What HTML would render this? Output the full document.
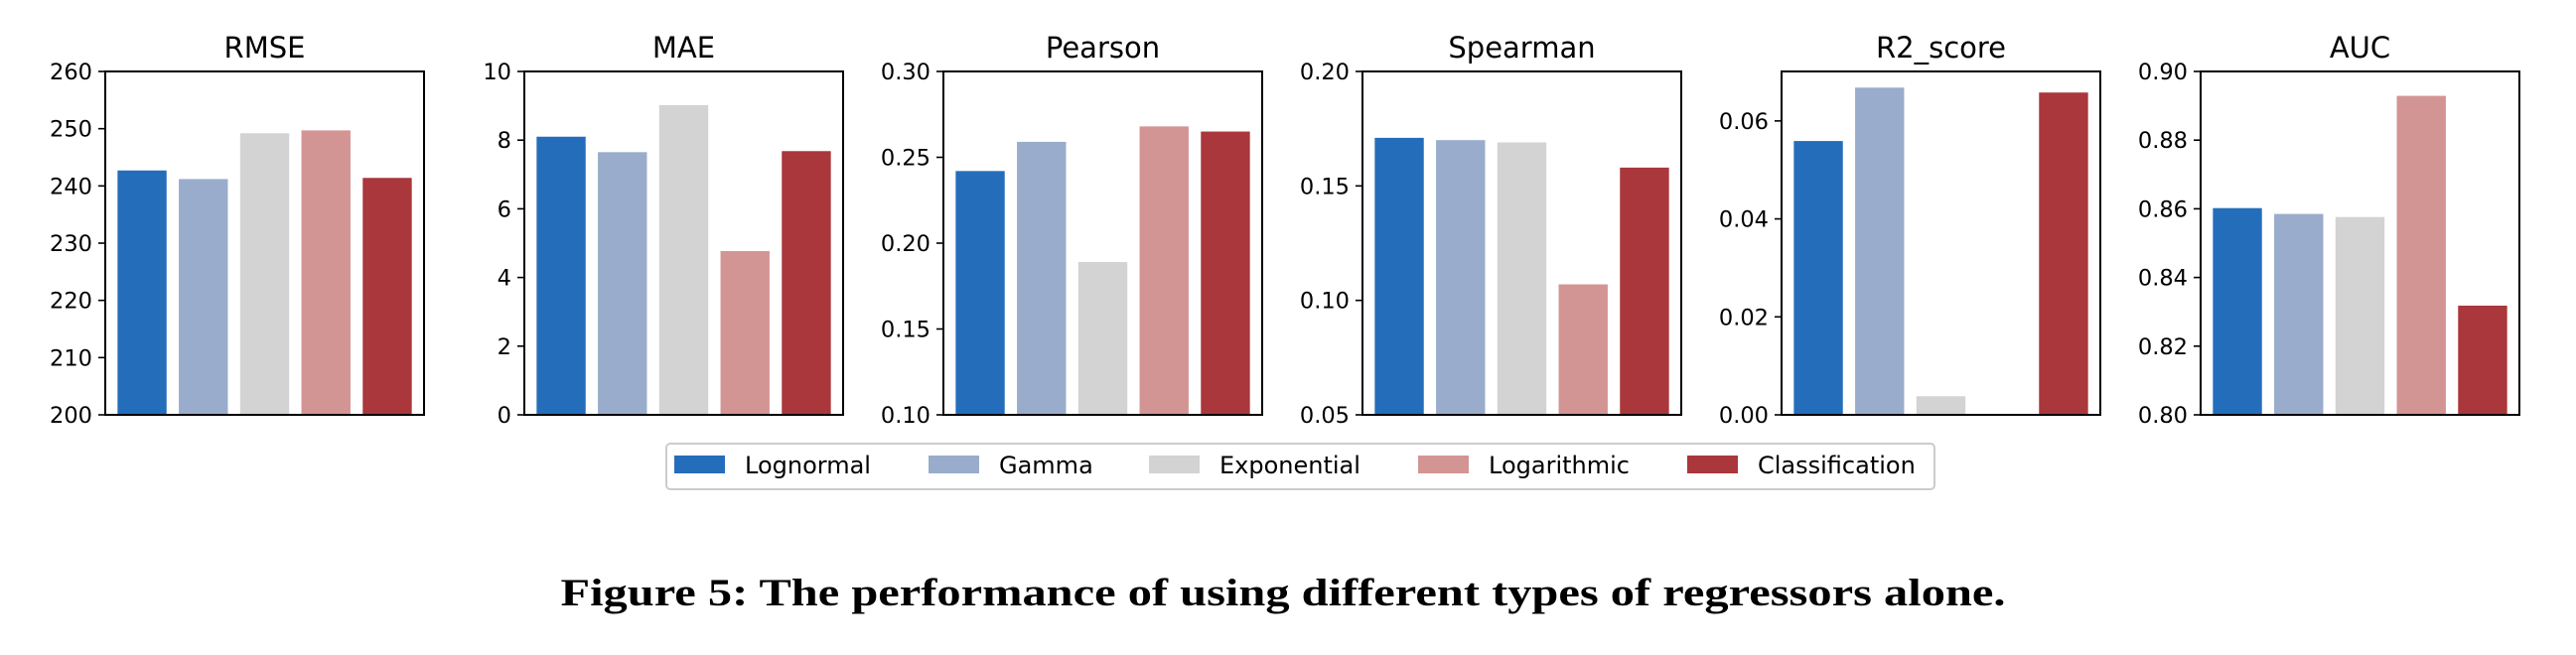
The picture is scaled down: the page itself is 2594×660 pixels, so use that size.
<!DOCTYPE html>
<html><head><meta charset="utf-8"><style>
html,body{margin:0;padding:0;background:#fff;width:2594px;height:660px;overflow:hidden}
svg text{font-family:"DejaVu Sans","Liberation Sans",sans-serif}
</style></head><body>
<svg id="fig" width="2594" height="660" viewBox="0 0 2594 660" xmlns="http://www.w3.org/2000/svg">
<g id="panels"></g>
<g id="legend"></g>
<text x="1292" y="610" text-anchor="middle" font-size="39" font-weight="bold" style="font-family:'Liberation Serif',serif" textLength="1455" lengthAdjust="spacingAndGlyphs">Figure 5: The performance of using different types of regressors alone.</text>
</svg>
<script>
const series = ["Lognormal","Gamma","Exponential","Logarithmic","Classification"];
const colors = ["#246dbb","#99accb","#d3d3d3","#d39594","#a9373b"];
const metrics = ["RMSE","MAE","Pearson","Spearman","R2_score","AUC"];
const rmseValues = [242.7,241.2,249.2,249.7,241.4];
const maeValues = [8.1,7.65,9.02,4.77,7.68];
const pearsonValues = [0.242,0.259,0.189,0.268,0.265];
const spearmanValues = [0.171,0.170,0.169,0.107,0.158];
const r2Values = [0.0559,0.0668,0.0038,0,0.0658];
const aucValues = [0.8602,0.8585,0.8576,0.8929,0.8318];
const yMins = [200,0,0.10,0.05,0,0.80];
const yMaxs = [260,10,0.30,0.20,0.0701,0.90];
const rmseTicks = ["200","210","220","230","240","250","260"];
const maeTicks = ["0","2","4","6","8","10"];
const pearsonTicks = ["0.10","0.15","0.20","0.25","0.30"];
const spearmanTicks = ["0.05","0.10","0.15","0.20"];
const r2Ticks = ["0.00","0.02","0.04","0.06"];
const aucTicks = ["0.80","0.82","0.84","0.86","0.88","0.90"];

const allValues=[rmseValues,maeValues,pearsonValues,spearmanValues,r2Values,aucValues];
const allTicks=[rmseTicks,maeTicks,pearsonTicks,spearmanTicks,r2Ticks,aucTicks];
const NS="http://www.w3.org/2000/svg";
const panels=document.getElementById('panels');
const W=321,TOP=72,BOT=418;
function mk(tag,attrs,parent){const e=document.createElementNS(NS,tag);for(const k in attrs)e.setAttribute(k,attrs[k]);parent.appendChild(e);return e;}
metrics.forEach((m,p)=>{
  const x0=106+p*422;
  const g=mk('g',{},panels);
  
  
  const yS=v=>BOT-(v-yMins[p])/(yMaxs[p]-yMins[p])*(BOT-TOP);
  const unit=W/5.2;
  const xS=i=>x0+(i+0.6)*unit;
  allValues[p].forEach((v,i)=>{
    const y=yS(v);
    const r=mk('rect',{x:xS(i)-0.4*unit,y:y,width:0.8*unit,height:BOT-y,fill:colors[i]},g);
    
    
  });
  const fr=mk('rect',{x:x0,y:TOP,width:W,height:BOT-TOP,fill:'none',stroke:'#000','stroke-width':2},g);
  
  
  allTicks[p].forEach(t=>{
    const y=yS(parseFloat(t));
    mk('line',{x1:x0-7,x2:x0,y1:y,y2:y,stroke:'#000','stroke-width':1.6},g);
    const tx=mk('text',{x:x0-13,y:y+8,'text-anchor':'end','font-size':22.5,fill:'#000'},g);
    tx.textContent=t;
    
    
  });
  const ti=mk('text',{x:x0+W/2,y:58,'text-anchor':'middle','font-size':29,fill:'#000'},g);
  ti.textContent=m;
  
  
});
const lg=document.getElementById('legend');
const lb=mk('rect',{x:671,y:447,width:1277,height:46,rx:4,fill:'#fff',stroke:'#cccccc','stroke-width':2},lg);


const patchX=[679,935,1157,1428,1699];
series.forEach((s,i)=>{
  const e=mk('g',{},lg);
  
  
  mk('rect',{x:patchX[i],y:459,width:51,height:18,fill:colors[i]},e);
  const t=mk('text',{x:patchX[i]+71,y:477,'font-size':24,fill:'#000'},e);
  t.textContent=s;
});
</script>
</body></html>
